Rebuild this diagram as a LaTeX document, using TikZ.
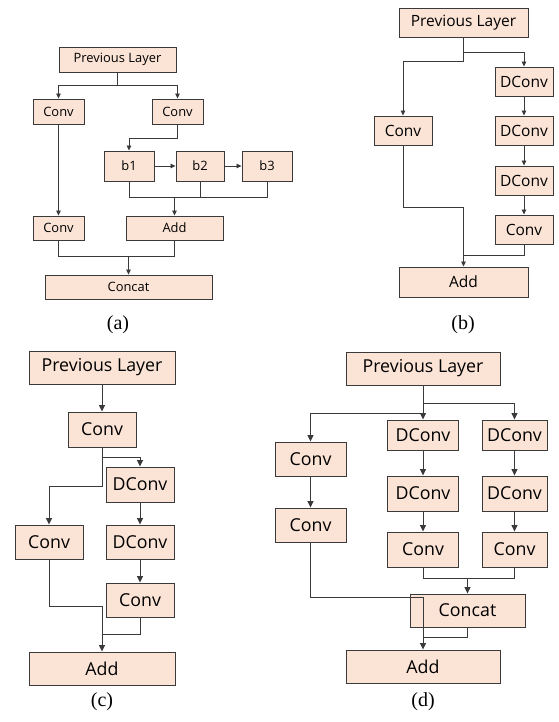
\documentclass[tikz,border=0pt]{standalone}
\usepackage{fontspec}
\setmainfont{Liberation Serif}
\newfontfamily\blkfont{Open Sans}
\usetikzlibrary{arrows.meta, positioning}

\definecolor{blkfill}{RGB}{251,228,214}
\definecolor{blkline}{RGB}{58,58,58}

\begin{document}
\begin{tikzpicture}[
  x=1pt,
  y=-1pt,
  blk/.style={
    draw=blkline,
    fill=blkfill,
    line width=0.9pt,
    inner sep=0pt
  },
  blka/.style={blk, font=\blkfont\fontsize{12.9}{13}\selectfont},
  blkb/.style={blk, font=\blkfont\fontsize{15.5}{16}\selectfont},
  blkc/.style={blk, font=\blkfont\fontsize{17.8}{18}\selectfont},
  arrow/.style={
    -{Triangle[length=5pt,width=4.5pt]},
    draw=blkline,
    line width=0.8pt
  },
  bigarrow/.style={
    arrow,
    -{Triangle[length=6.5pt,width=6pt]},
    line width=1pt
  },
  line/.style={
    draw=blkline,
    line width=0.8pt
  },
  bigline/.style={
    line,
    line width=1pt
  },
  sublabel/.style={font=\fontsize{20}{20}\selectfont}
]
\useasboundingbox (0,0) rectangle (558,722);

% (a) Nodes
\node[blka, minimum width=117pt, minimum height=25pt] (aprev) at (117.5,59.5) {Previous Layer};
\node[blka, minimum width=51pt, minimum height=25pt] (aconvl) at (58.5,111.5) {Conv};
\node[blka, minimum width=51pt, minimum height=25pt] (aconvr) at (177.5,111.5) {Conv};
\node[blka, minimum width=50pt, minimum height=30pt] (ab1) at (129,166) {b1};
\node[blka, minimum width=48pt, minimum height=30pt] (ab2) at (200,166) {b2};
\node[blka, minimum width=50pt, minimum height=30pt] (ab3) at (267,166) {b3};
\node[blka, minimum width=51pt, minimum height=24pt] (aconvb) at (58.5,228) {Conv};
\node[blka, minimum width=97pt, minimum height=24pt] (aadd) at (174.5,228) {Add};
\node[blka, minimum width=167pt, minimum height=24pt] (aconcat) at (128.5,287) {Concat};
\node[sublabel] (alabel) at (118,325) {(a)};

% (a) Arrows
\coordinate (asplit) at ([yshift=-13pt]aprev.south);
\draw[line] (aprev) -- (asplit);
\draw[arrow] (asplit) -| (aconvl);
\draw[arrow] (asplit) -| (aconvr);
\draw[arrow] (aconvr.south) -- ++(0,14) -| (ab1.north);
\draw[arrow] (ab1) -- (ab2);
\draw[arrow] (ab2) -- (ab3);
\coordinate (ajoin) at ([yshift=18pt]aadd.north);
\draw[line] (ab1.south) |- (ajoin) -| (ab3.south);
\draw[line] (ab2.south) -- (ab2.south |- ajoin);
\draw[arrow] (ajoin) -- (aadd);
\draw[arrow] (aconvl) -- (aconvb);
\coordinate (amerge) at ([yshift=18pt]aconcat.north);
\draw[line] (aconvb.south) |- (amerge) -| (aadd.south);
\draw[arrow] (amerge) -- (aconcat);

% (b) Nodes
\node[blkb, minimum width=129pt, minimum height=29pt] (bprev) at (463.5,22.5) {Previous Layer};
\node[blkb, minimum width=58pt, minimum height=29pt] (bdc1) at (524,81.5) {DConv};
\node[blkb, minimum width=58pt, minimum height=29pt] (bdc2) at (524,130.5) {DConv};
\node[blkb, minimum width=58pt, minimum height=29pt] (bdc3) at (524,180.5) {DConv};
\node[blkb, minimum width=58pt, minimum height=29pt] (bconvr) at (524,229.5) {Conv};
\node[blkb, minimum width=58pt, minimum height=29pt] (bconvl) at (403,130.5) {Conv};
\node[blkb, minimum width=129pt, minimum height=30pt] (badd) at (463.5,282) {Add};
\node[sublabel] (blabel) at (463,325) {(b)};

% (b) Arrows
\draw[line] (bprev.south) -- ++(0,24) coordinate (bfork);
\draw[arrow] ([yshift=-15pt]bprev.south) -| (bdc1);
\draw[arrow] (bfork) -| (bconvl);
\draw[arrow] (bdc1) -- (bdc2);
\draw[arrow] (bdc2) -- (bdc3);
\draw[arrow] (bdc3) -- (bconvr);
\draw[arrow] (bconvl.south) -- ++(0,62) -| (badd);
\draw[line] (bconvr.south) |- ([yshift=11pt]badd.north);

% (c) Nodes
\node[blkc, minimum width=146pt, minimum height=33pt] (cprev) at (102,367.5) {Previous Layer};
\node[blkc, minimum width=68pt, minimum height=35pt] (cconv) at (102,429.5) {Conv};
\node[blkc, minimum width=68pt, minimum height=35pt] (cdc1) at (140,484.5) {DConv};
\node[blkc, minimum width=68pt, minimum height=34pt] (cdc2) at (140,542) {DConv};
\node[blkc, minimum width=68pt, minimum height=34pt] (cconvl) at (49,542) {Conv};
\node[blkc, minimum width=68pt, minimum height=34pt] (cconvr) at (140,600) {Conv};
\node[blkc, minimum width=146pt, minimum height=33pt] (cadd) at (102,668.5) {Add};
\node[sublabel] (clabel) at (102,702) {(c)};

% (c) Arrows
\draw[bigarrow] (cprev) -- (cconv);
\draw[bigarrow] ([yshift=-10pt]cconv.south) -| (cdc1);
\draw[bigarrow] (cconv.south) -- ++(0,39) -| (cconvl);
\draw[bigarrow] (cdc1) -- (cdc2);
\draw[bigarrow] (cdc2) -- (cconvr);
\draw[bigarrow] (cconvl.south) -- ++(0,47) -| (cadd);
\draw[bigline] (cconvr.south) |- ([yshift=17pt]cadd.north);

% (d) Nodes
\node[blkc, minimum width=154pt, minimum height=33pt] (dprev) at (423,368.5) {Previous Layer};
\node[blkc, minimum width=71pt, minimum height=30pt] (ddc1) at (423,435) {DConv};
\node[blkc, minimum width=71pt, minimum height=35pt] (ddc2) at (423,493.5) {DConv};
\node[blkc, minimum width=71pt, minimum height=35pt] (dconvm) at (423,549.5) {Conv};
\node[blkc, minimum width=65pt, minimum height=30pt] (ddr1) at (514.5,435) {DConv};
\node[blkc, minimum width=65pt, minimum height=35pt] (ddr2) at (514.5,493.5) {DConv};
\node[blkc, minimum width=65pt, minimum height=35pt] (dconvr) at (514.5,549.5) {Conv};
\node[blkc, minimum width=71pt, minimum height=34pt] (dconv1) at (310.5,459) {Conv};
\node[blkc, minimum width=71pt, minimum height=34pt] (dconv2) at (310.5,525) {Conv};
\node[blkc, minimum width=115pt, minimum height=33pt] (dconcat) at (467.5,610.5) {Concat};
\node[blkc, minimum width=154pt, minimum height=33pt] (dadd) at (423,666.5) {Add};
\node[sublabel] (dlabel) at (423,702) {(d)};

% (d) Arrows
\draw[bigarrow] (dprev) -- (ddc1);
\draw[bigarrow] ([yshift=-18pt]dprev.south) -| (ddr1);
\draw[bigarrow] ([yshift=-28pt]dprev.south) -| (dconv1);
\draw[bigarrow] (ddc1) -- (ddc2);
\draw[bigarrow] (ddc2) -- (dconvm);
\draw[bigarrow] (ddr1) -- (ddr2);
\draw[bigarrow] (ddr2) -- (dconvr);
\draw[bigarrow] (dconv1) -- (dconv2);
\coordinate (dmerge) at ([yshift=15pt]dconcat.north);
\draw[bigline] (dconvm.south) |- (dmerge) -| (dconvr.south);
\draw[bigarrow] (dmerge) -- (dconcat);
\draw[bigarrow] (dconv2.south) -- ++(0,55) -| (dadd);
\draw[bigline] (dconcat.south) |- ([yshift=12pt]dadd.north);

\end{tikzpicture}
\end{document}
